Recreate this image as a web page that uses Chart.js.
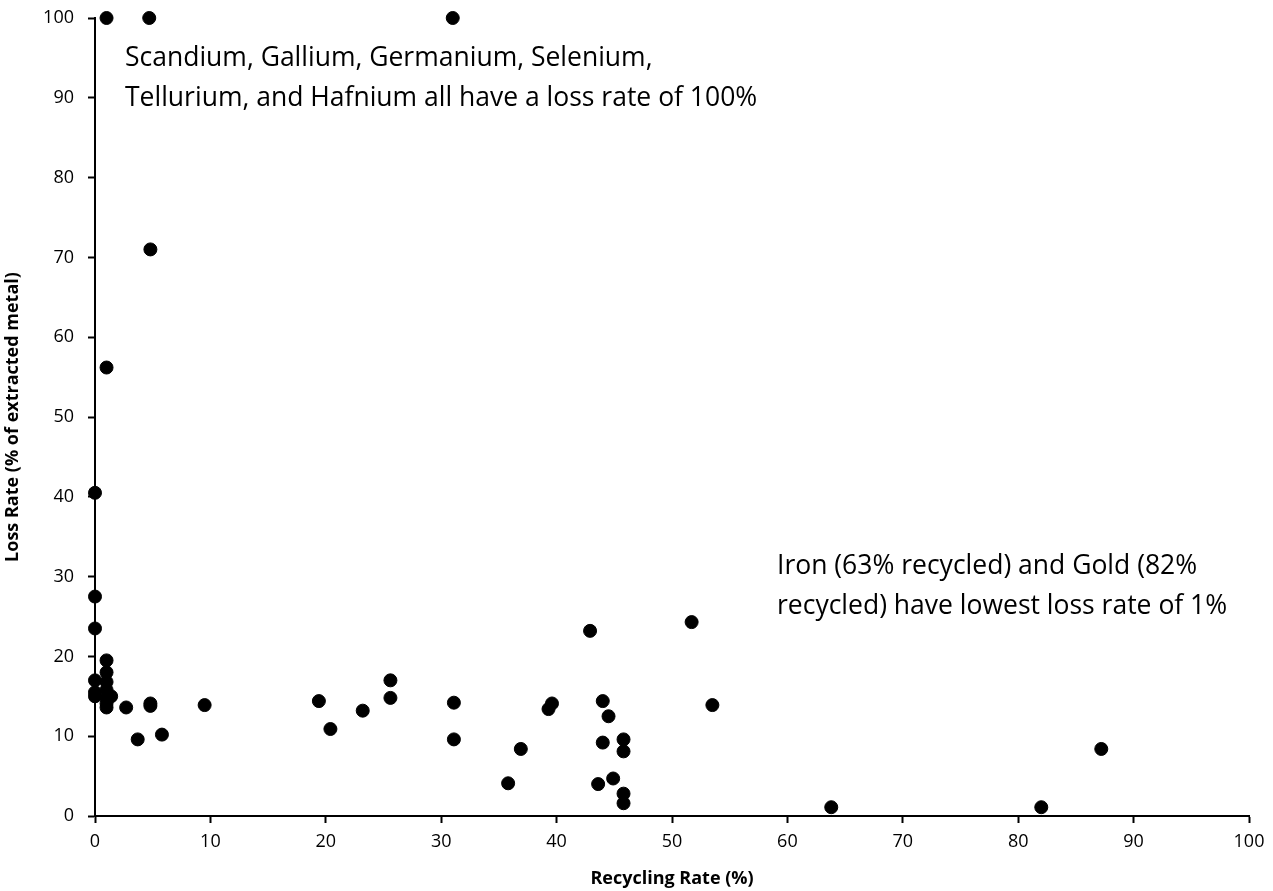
<!DOCTYPE html>
<html>
<head>
<meta charset="utf-8">
<script src="https://cdn.jsdelivr.net/npm/chart.js@4.4.1/dist/chart.umd.min.js"></script>
<style>
  html, body { margin: 0; padding: 0; background: #fff; }
  #wrap { width: 1273px; height: 891px; }
</style>
</head>
<body>
<div id="wrap"><canvas id="myChart" width="1273" height="891"></canvas></div>
<script>
// recycling rate (%) per metal
const recyclingRate = [
  1, 4.7, 31, 4.8, 1, 0, 0, 0,
  1, 1, 0, 1, 1, 0, 0, 1.4, 1, 1, 1, 2.7, 4.8, 4.8, 3.7, 5.8, 9.5,
  19.4, 20.4, 23.2, 25.6, 25.6, 31.1, 31.1, 35.8, 36.9, 39.3, 39.6,
  42.9, 43.6, 44, 44, 44.5, 44.9, 45.8, 45.8, 45.8, 45.8,
  51.7, 53.5, 63.8, 82, 87.2
];
// loss rate (% of extracted metal)
const lossRate = [
  100, 100, 100, 71, 56.2, 40.5, 27.5, 23.5,
  19.5, 18, 17, 16.8, 15.8, 15.5, 15, 15, 14.8, 14.1, 13.6, 13.6, 14.1, 13.8, 9.6, 10.2, 13.9,
  14.4, 10.9, 13.2, 17, 14.8, 14.2, 9.6, 4.1, 8.4, 13.4, 14.1,
  23.2, 4, 14.4, 9.2, 12.5, 4.7, 9.6, 8.1, 2.8, 1.6,
  24.3, 13.9, 1.1, 1.1, 8.4
];
const xTicks = [0, 10, 20, 30, 40, 50, 60, 70, 80, 90, 100];
const yTicks = [0, 10, 20, 30, 40, 50, 60, 70, 80, 90, 100];
const notes = [
  { lines: ['Scandium, Gallium, Germanium, Selenium,', 'Tellurium, and Hafnium all have a loss rate of 100%'], x: 125, y: 58 },
  { lines: ['Iron (63% recycled) and Gold (82%', 'recycled) have lowest loss rate of 1%'], x: 777, y: 566 }
];

const points = recyclingRate.map((v, i) => ({ x: v, y: lossRate[i] }));
const FONT = '"Open Sans", Lato, sans-serif';

// draw the two text notes on top of the plot
const notesPlugin = {
  id: 'notes',
  afterDraw(chart) {
    const ctx = chart.ctx;
    ctx.save();
    ctx.fillStyle = '#000';
    ctx.font = '26.5px ' + FONT;
    ctx.textBaseline = 'middle';
    ctx.textAlign = 'left';
    notes.forEach(n => {
      n.lines.forEach((t, k) => ctx.fillText(t, n.x, n.y + k * 40));
    });
    ctx.restore();
  }
};

new Chart(document.getElementById('myChart'), {
  type: 'scatter',
  data: {
    datasets: [{
      data: points,
      backgroundColor: '#000',
      borderColor: '#000',
      pointRadius: 6.5,
      pointHoverRadius: 6.5,
      clip: false
    }]
  },
  options: {
    responsive: false,
    animation: false,
    layout: { padding: { top: 18, right: 24, left: 0, bottom: 0 } },
    plugins: { legend: { display: false }, tooltip: { enabled: false } },
    scales: {
      x: {
        type: 'linear',
        min: 0, max: 100,
        afterBuildTicks: s => { s.ticks = xTicks.map(v => ({ value: v })); },
        afterFit: s => { s.height = 75; s.paddingLeft = 0; s.paddingRight = 0; },
        border: { color: '#000', width: 2 },
        grid: { drawOnChartArea: false, tickLength: 7, tickColor: '#000', tickWidth: 2 },
        ticks: { color: '#000', font: { family: FONT, size: 18 }, padding: 8, maxRotation: 0 },
        title: { display: true, text: 'Recycling Rate (%)', color: '#000', font: { family: FONT, size: 18, weight: 'bold' }, padding: { top: 4, bottom: 1 } }
      },
      y: {
        type: 'linear',
        min: 0, max: 100,
        afterBuildTicks: s => { s.ticks = yTicks.map(v => ({ value: v })); },
        afterFit: s => { s.width = 95; s.paddingTop = 0; s.paddingBottom = 0; },
        border: { color: '#000', width: 2 },
        grid: { drawOnChartArea: false, tickLength: 7, tickColor: '#000', tickWidth: 2 },
        ticks: { color: '#000', font: { family: FONT, size: 18 }, padding: 14 },
        title: { display: true, text: 'Loss Rate (% of extracted metal)', color: '#000', font: { family: FONT, size: 18, weight: 'bold' }, padding: { top: 2, bottom: 4 } }
      }
    }
  },
  plugins: [notesPlugin]
});
</script>
</body>
</html>
